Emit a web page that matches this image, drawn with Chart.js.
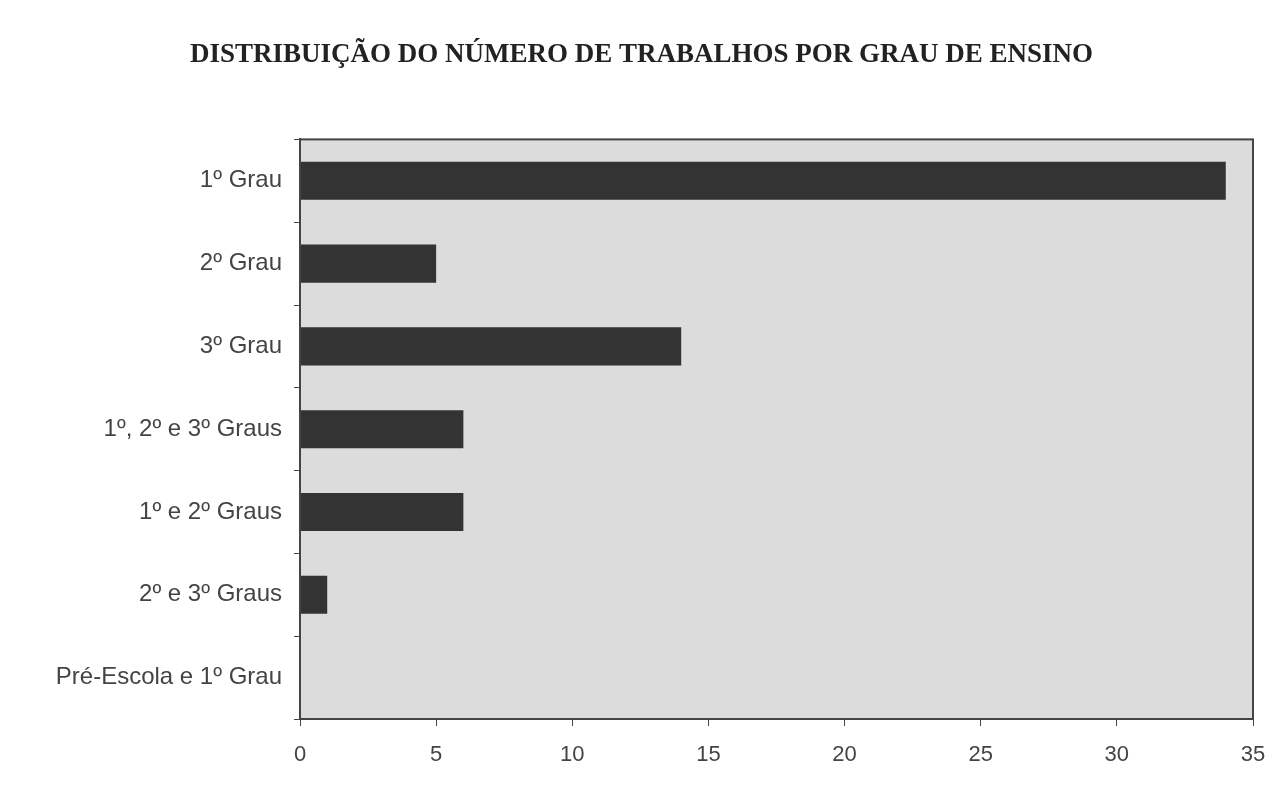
<!DOCTYPE html>
<html>
<head>
<meta charset="utf-8">
<script src="https://cdn.jsdelivr.net/npm/chart.js@4.4.1/dist/chart.umd.min.js"></script>
<style>
  html, body { margin: 0; padding: 0; background: #fff; }
  #wrap { width: 1288px; height: 809px; position: relative; }
</style>
</head>
<body>
<div id="wrap"><canvas id="myBar"></canvas></div>
<script>
// categories and values
var grauLabels = ['1º Grau', '2º Grau', '3º Grau', '1º, 2º e 3º Graus', '1º e 2º Graus', '2º e 3º Graus', 'Pré-Escola e 1º Grau'];
var numTrabalhos = [34, 5, 14, 6, 6, 1, 0];
var xTicks = [0, 5, 10, 15, 20, 25, 30, 35];

// grey plot area with a dark frame, like the old spreadsheet chart
var plotBackground = {
    id: 'plotBackground',
    beforeDraw: function (chart) {
        var a = chart.chartArea;
        var ctx = chart.ctx;
        ctx.save();
        ctx.fillStyle = '#dcdcdc';
        ctx.fillRect(a.left, a.top, a.right - a.left, a.bottom - a.top);
        ctx.restore();
    },
    afterDatasetsDraw: function (chart) {
        var a = chart.chartArea;
        var ctx = chart.ctx;
        ctx.save();
        ctx.strokeStyle = '#444';
        ctx.lineWidth = 2;
        ctx.strokeRect(a.left, a.top, a.right - a.left, a.bottom - a.top);
        ctx.restore();
    }
};

var ctx = document.getElementById('myBar').getContext('2d');
var grauChart = new Chart(ctx, {
    type: 'bar',
    data: {
        labels: grauLabels,
        datasets: [{
            data: numTrabalhos,
            backgroundColor: '#333333',
            borderWidth: 0,
            categoryPercentage: 1,
            barPercentage: 0.46
        }]
    },
    options: {
        indexAxis: 'y',
        responsive: true,
        maintainAspectRatio: false,
        animation: false,
        layout: {
            padding: { left: 30, right: 35, top: 0, bottom: 0 }
        },
        plugins: {
            legend: { display: false },
            tooltip: { enabled: false },
            title: {
                display: true,
                text: 'DISTRIBUIÇÃO DO NÚMERO DE TRABALHOS POR GRAU DE ENSINO',
                color: '#222',
                font: {
                    family: '"Liberation Serif", "DejaVu Serif", serif',
                    size: 27,
                    weight: 'bold'
                },
                padding: { top: 39, bottom: 68 }
            }
        },
        scales: {
            x: {
                min: 0,
                max: 35,
                afterBuildTicks: function (scale) {
                    scale.ticks = xTicks.map(function (v) { return { value: v }; });
                },
                afterFit: function (scale) { scale.height = 90; },
                grid: {
                    drawOnChartArea: false,
                    drawTicks: true,
                    tickLength: 7,
                    color: '#444'
                },
                border: { display: true, color: '#444', width: 2 },
                ticks: {
                    color: '#444',
                    padding: 16,
                    font: { family: '"Liberation Sans", Arial, sans-serif', size: 22 }
                }
            },
            y: {
                afterFit: function (scale) { scale.width = 270; },
                grid: {
                    drawOnChartArea: false,
                    drawTicks: true,
                    tickLength: 6,
                    color: '#444'
                },
                border: { display: true, color: '#444', width: 2 },
                ticks: {
                    color: '#444',
                    padding: 12,
                    font: { family: '"Liberation Sans", Arial, sans-serif', size: 24 }
                }
            }
        }
    },
    plugins: [plotBackground]
});
</script>
</body>
</html>
